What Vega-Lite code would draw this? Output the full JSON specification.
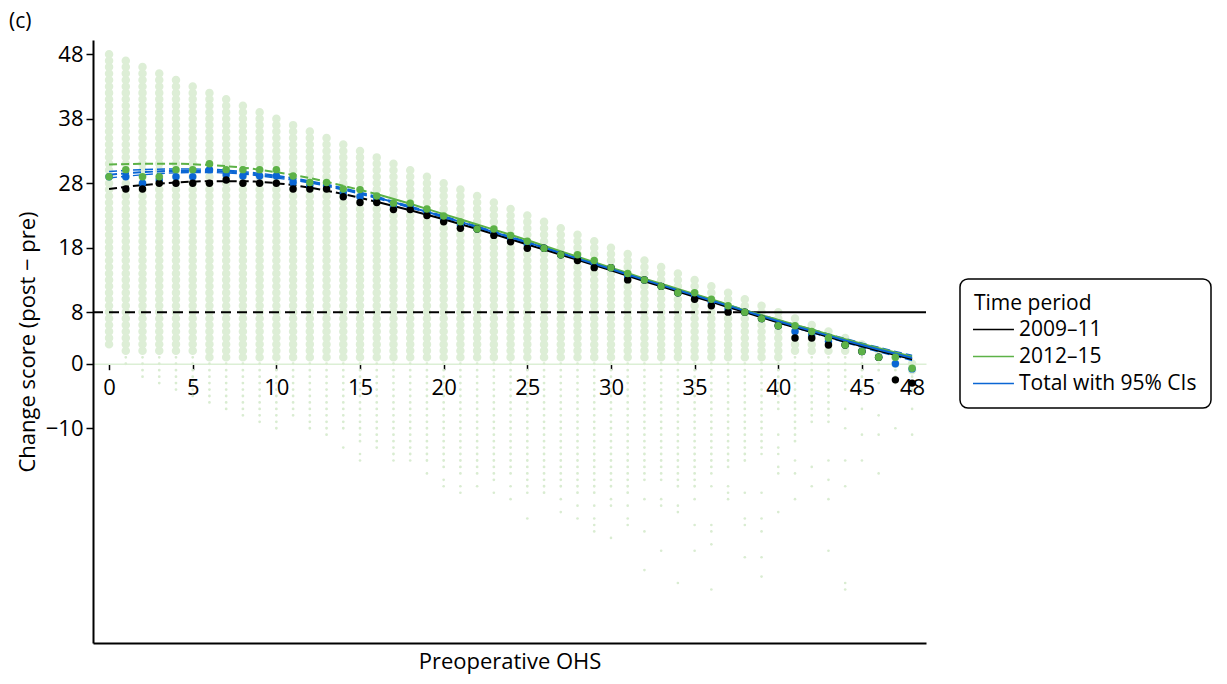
{
  "$schema": "https://vega.github.io/schema/vega-lite/v6.json",
  "width": 833,
  "height": 603,
  "autosize": "none",
  "padding": {"left": 93, "top": 40, "right": 301, "bottom": 41},
  "background": "white",
  "config": {"view": {"stroke": null}, "font": "Open Sans", "axis": {"grid": false}},
  "title": {"text": "(c)", "anchor": "start", "frame": "group", "dx": -84, "offset": 8, "fontSize": 21, "fontWeight": "normal", "font": "Open Sans", "color": "black"},
  "resolve": {"scale": {"color": "independent"}, "axis": {"x": "independent"}},
  "datasets": {
    "cols": [
      {"x": 0, "hi": 48, "bl": 3, "st": null, "sl": null},
      {"x": 1, "hi": 47, "bl": 2, "st": 1, "sl": 0},
      {"x": 2, "hi": 46, "bl": 2, "st": 1, "sl": -2},
      {"x": 3, "hi": 45, "bl": 2, "st": 1, "sl": -3},
      {"x": 4, "hi": 44, "bl": 2, "st": 1, "sl": -4},
      {"x": 5, "hi": 43, "bl": 2, "st": 1, "sl": -5},
      {"x": 6, "hi": 42, "bl": 1, "st": 0, "sl": -6},
      {"x": 7, "hi": 41, "bl": 1, "st": 0, "sl": -7},
      {"x": 8, "hi": 40, "bl": 1, "st": 0, "sl": -8},
      {"x": 9, "hi": 39, "bl": 1, "st": 0, "sl": -9},
      {"x": 10, "hi": 38, "bl": 1, "st": 0, "sl": -10},
      {"x": 11, "hi": 37, "bl": 1, "st": 0, "sl": -8},
      {"x": 12, "hi": 36, "bl": 1, "st": 0, "sl": -10},
      {"x": 13, "hi": 35, "bl": 1, "st": 0, "sl": -11},
      {"x": 14, "hi": 34, "bl": 1, "st": 0, "sl": -10},
      {"x": 15, "hi": 33, "bl": 1, "st": 0, "sl": -12},
      {"x": 16, "hi": 32, "bl": 1, "st": 0, "sl": -13},
      {"x": 17, "hi": 31, "bl": 1, "st": 0, "sl": -14},
      {"x": 18, "hi": 30, "bl": 1, "st": 0, "sl": -14},
      {"x": 19, "hi": 29, "bl": 1, "st": 0, "sl": -15},
      {"x": 20, "hi": 28, "bl": 1, "st": 0, "sl": -16},
      {"x": 21, "hi": 27, "bl": 1, "st": 0, "sl": -17},
      {"x": 22, "hi": 26, "bl": 1, "st": 0, "sl": -17},
      {"x": 23, "hi": 25, "bl": 1, "st": 0, "sl": -18},
      {"x": 24, "hi": 24, "bl": 1, "st": 0, "sl": -17},
      {"x": 25, "hi": 23, "bl": 1, "st": 0, "sl": -19},
      {"x": 26, "hi": 22, "bl": 1, "st": 0, "sl": -20},
      {"x": 27, "hi": 21, "bl": 1, "st": 0, "sl": -19},
      {"x": 28, "hi": 20, "bl": 1, "st": 0, "sl": -20},
      {"x": 29, "hi": 19, "bl": 1, "st": 0, "sl": -20},
      {"x": 30, "hi": 18, "bl": 1, "st": 0, "sl": -19},
      {"x": 31, "hi": 17, "bl": 1, "st": 0, "sl": -20},
      {"x": 32, "hi": 16, "bl": 1, "st": 0, "sl": -18},
      {"x": 33, "hi": 15, "bl": 1, "st": 0, "sl": -18},
      {"x": 34, "hi": 14, "bl": 1, "st": 0, "sl": -19},
      {"x": 35, "hi": 13, "bl": 1, "st": 0, "sl": -19},
      {"x": 36, "hi": 12, "bl": 1, "st": 0, "sl": -16},
      {"x": 37, "hi": 11, "bl": 1, "st": 0, "sl": -16},
      {"x": 38, "hi": 10, "bl": 1, "st": 0, "sl": -15},
      {"x": 39, "hi": 9, "bl": 1, "st": 0, "sl": -13},
      {"x": 40, "hi": 8, "bl": 1, "st": 0, "sl": -7},
      {"x": 41, "hi": 7, "bl": 2, "st": 1, "sl": -12},
      {"x": 42, "hi": 6, "bl": 2, "st": 1, "sl": -9},
      {"x": 43, "hi": 5, "bl": 2, "st": 1, "sl": -9},
      {"x": 44, "hi": 4, "bl": 2, "st": 1, "sl": -4},
      {"x": 45, "hi": 3, "bl": 2, "st": 1, "sl": -2},
      {"x": 46, "hi": 2, "bl": 1, "st": 0, "sl": -1},
      {"x": 47, "hi": 1, "bl": 0, "st": -1, "sl": -2},
      {"x": 48, "hi": 0, "bl": -1, "st": -2, "sl": -3}
    ],
    "outliers": [
      {"x": 14, "y": -13}, {"x": 15, "y": -14}, {"x": 15, "y": -15}, {"x": 17, "y": -15}, {"x": 18, "y": -15},
      {"x": 19, "y": -17}, {"x": 20, "y": -18}, {"x": 20, "y": -19}, {"x": 21, "y": -19}, {"x": 21, "y": -20},
      {"x": 22, "y": -19}, {"x": 23, "y": -20}, {"x": 24, "y": -19}, {"x": 24, "y": -21}, {"x": 25, "y": -20},
      {"x": 25, "y": -24}, {"x": 27, "y": -21}, {"x": 27, "y": -23}, {"x": 28, "y": -22}, {"x": 28, "y": -24},
      {"x": 29, "y": -22}, {"x": 29, "y": -24}, {"x": 29, "y": -25}, {"x": 29, "y": -26}, {"x": 30, "y": -21},
      {"x": 30, "y": -22}, {"x": 30, "y": -27}, {"x": 31, "y": -22}, {"x": 31, "y": -24}, {"x": 31, "y": -25},
      {"x": 32, "y": -21}, {"x": 32, "y": -26}, {"x": 32, "y": -32}, {"x": 33, "y": -21}, {"x": 33, "y": -22},
      {"x": 33, "y": -29}, {"x": 34, "y": -22}, {"x": 34, "y": -23}, {"x": 34, "y": -34}, {"x": 35, "y": -21},
      {"x": 35, "y": -25}, {"x": 35, "y": -29}, {"x": 36, "y": -17}, {"x": 36, "y": -19}, {"x": 36, "y": -25},
      {"x": 36, "y": -26}, {"x": 36, "y": -28}, {"x": 36, "y": -35}, {"x": 37, "y": -19}, {"x": 37, "y": -20},
      {"x": 37, "y": -21}, {"x": 38, "y": -20}, {"x": 38, "y": -24}, {"x": 38, "y": -25}, {"x": 38, "y": -30},
      {"x": 39, "y": -14}, {"x": 39, "y": -20}, {"x": 39, "y": -24}, {"x": 39, "y": -26}, {"x": 39, "y": -30},
      {"x": 39, "y": -33}, {"x": 40, "y": -11}, {"x": 40, "y": -13}, {"x": 40, "y": -14}, {"x": 40, "y": -16},
      {"x": 40, "y": -17}, {"x": 40, "y": -23}, {"x": 41, "y": -15}, {"x": 41, "y": -17}, {"x": 41, "y": -21},
      {"x": 42, "y": -16}, {"x": 42, "y": -19}, {"x": 43, "y": -15}, {"x": 43, "y": -18}, {"x": 43, "y": -21},
      {"x": 43, "y": -29}, {"x": 44, "y": -7}, {"x": 44, "y": -10}, {"x": 44, "y": -15}, {"x": 44, "y": -19},
      {"x": 44, "y": -34}, {"x": 44, "y": -35}, {"x": 45, "y": -4}, {"x": 45, "y": -7}, {"x": 45, "y": -11},
      {"x": 45, "y": -15}, {"x": 46, "y": -3}, {"x": 46, "y": -8}, {"x": 46, "y": -11}, {"x": 46, "y": -17},
      {"x": 47, "y": -3}, {"x": 47, "y": -10}, {"x": 48, "y": -4}, {"x": 48, "y": -7}, {"x": 48, "y": -11}
    ],
    "fitA": [
      {"x": 0, "2009–11": 27.1, "2012–15": 30.9, "Total with 95% CIs": 29.3, "lo": 28.8, "hi": 29.8},
      {"x": 2, "2009–11": 27.7, "2012–15": 31.0, "Total with 95% CIs": 29.7, "lo": 29.3, "hi": 30.1},
      {"x": 4, "2009–11": 28.1, "2012–15": 31.0, "Total with 95% CIs": 29.9, "lo": 29.6, "hi": 30.2},
      {"x": 6, "2009–11": 28.3, "2012–15": 30.8, "Total with 95% CIs": 29.9, "lo": 29.65, "hi": 30.15},
      {"x": 8, "2009–11": 28.3, "2012–15": 30.4, "Total with 95% CIs": 29.6, "lo": 29.4, "hi": 29.8},
      {"x": 10, "2009–11": 28.0, "2012–15": 29.7, "Total with 95% CIs": 29.0, "lo": 28.8, "hi": 29.2},
      {"x": 12, "2009–11": 27.3, "2012–15": 28.8, "Total with 95% CIs": 28.2, "lo": 28.05, "hi": 28.35},
      {"x": 14, "2009–11": 26.3, "2012–15": 27.6, "Total with 95% CIs": 27.1, "lo": 26.95, "hi": 27.25},
      {"x": 16, "2009–11": 25.1, "2012–15": 26.3, "Total with 95% CIs": 25.8, "lo": 25.65, "hi": 25.95}
    ],
    "fitB": [
      {"x": 16, "2009–11": 25.1, "2012–15": 26.3, "Total with 95% CIs": 25.8, "lo": 25.65, "hi": 25.95},
      {"x": 18, "2009–11": 23.8, "2012–15": 24.8, "Total with 95% CIs": 24.3, "lo": 24.18, "hi": 24.42},
      {"x": 20, "2009–11": 22.4, "2012–15": 23.2, "Total with 95% CIs": 22.8, "lo": 22.68, "hi": 22.92},
      {"x": 22, "2009–11": 20.9, "2012–15": 21.6, "Total with 95% CIs": 21.2, "lo": 21.08, "hi": 21.32},
      {"x": 24, "2009–11": 19.3, "2012–15": 20.0, "Total with 95% CIs": 19.6, "lo": 19.48, "hi": 19.72},
      {"x": 26, "2009–11": 17.7, "2012–15": 18.3, "Total with 95% CIs": 18.0, "lo": 17.88, "hi": 18.12},
      {"x": 28, "2009–11": 16.1, "2012–15": 16.6, "Total with 95% CIs": 16.3, "lo": 16.18, "hi": 16.42},
      {"x": 30, "2009–11": 14.5, "2012–15": 14.9, "Total with 95% CIs": 14.7, "lo": 14.58, "hi": 14.82},
      {"x": 32, "2009–11": 12.8, "2012–15": 13.2, "Total with 95% CIs": 13.0, "lo": 12.88, "hi": 13.12},
      {"x": 34, "2009–11": 11.2, "2012–15": 11.6, "Total with 95% CIs": 11.4, "lo": 11.28, "hi": 11.52},
      {"x": 36, "2009–11": 9.6, "2012–15": 10.0, "Total with 95% CIs": 9.8, "lo": 9.65, "hi": 9.95},
      {"x": 38, "2009–11": 8.0, "2012–15": 8.3, "Total with 95% CIs": 8.2, "lo": 8.05, "hi": 8.35},
      {"x": 40, "2009–11": 6.4, "2012–15": 6.8, "Total with 95% CIs": 6.6, "lo": 6.4, "hi": 6.8},
      {"x": 42, "2009–11": 4.9, "2012–15": 5.3, "Total with 95% CIs": 5.1, "lo": 4.85, "hi": 5.35},
      {"x": 44, "2009–11": 3.4, "2012–15": 3.8, "Total with 95% CIs": 3.6, "lo": 3.3, "hi": 3.9},
      {"x": 46, "2009–11": 2.0, "2012–15": 2.4, "Total with 95% CIs": 2.2, "lo": 1.85, "hi": 2.55},
      {"x": 48, "2009–11": 0.7, "2012–15": 1.1, "Total with 95% CIs": 0.9, "lo": 0.5, "hi": 1.3}
    ],
    "means": [
      {"x": 0, "2009–11": null, "2012–15": 29.0, "Total with 95% CIs": 29.0},
      {"x": 1, "2009–11": 27.1, "2012–15": 30.1, "Total with 95% CIs": 29.0},
      {"x": 2, "2009–11": 27.1, "2012–15": 29.0, "Total with 95% CIs": 28.0},
      {"x": 3, "2009–11": 28.0, "2012–15": 29.0, "Total with 95% CIs": 28.5},
      {"x": 4, "2009–11": 28.0, "2012–15": 30.1, "Total with 95% CIs": 29.0},
      {"x": 5, "2009–11": 28.0, "2012–15": 30.1, "Total with 95% CIs": 29.0},
      {"x": 6, "2009–11": 28.0, "2012–15": 31.0, "Total with 95% CIs": 30.1},
      {"x": 7, "2009–11": 28.5, "2012–15": 30.1, "Total with 95% CIs": 29.3},
      {"x": 8, "2009–11": 28.0, "2012–15": 30.1, "Total with 95% CIs": 29.1},
      {"x": 9, "2009–11": 28.0, "2012–15": 30.1, "Total with 95% CIs": 29.1},
      {"x": 10, "2009–11": 28.0, "2012–15": 30.1, "Total with 95% CIs": 29.1},
      {"x": 11, "2009–11": 27.1, "2012–15": 29.1, "Total with 95% CIs": 28.1},
      {"x": 12, "2009–11": 27.1, "2012–15": 28.1, "Total with 95% CIs": 27.6},
      {"x": 13, "2009–11": 27.1, "2012–15": 28.1, "Total with 95% CIs": 27.6},
      {"x": 14, "2009–11": 25.9, "2012–15": 27.1, "Total with 95% CIs": 26.5},
      {"x": 15, "2009–11": 25.0, "2012–15": 27.0, "Total with 95% CIs": 25.9},
      {"x": 16, "2009–11": 25.0, "2012–15": 26.0, "Total with 95% CIs": 25.5},
      {"x": 17, "2009–11": 23.9, "2012–15": 24.9, "Total with 95% CIs": 24.4},
      {"x": 18, "2009–11": 23.9, "2012–15": 24.9, "Total with 95% CIs": 24.4},
      {"x": 19, "2009–11": 23.0, "2012–15": 24.0, "Total with 95% CIs": 23.5},
      {"x": 20, "2009–11": 22.0, "2012–15": 22.9, "Total with 95% CIs": 22.4},
      {"x": 21, "2009–11": 21.0, "2012–15": 22.0, "Total with 95% CIs": 21.5},
      {"x": 22, "2009–11": 20.9, "2012–15": 20.9, "Total with 95% CIs": 20.9},
      {"x": 23, "2009–11": 19.9, "2012–15": 20.9, "Total with 95% CIs": 20.4},
      {"x": 24, "2009–11": 18.9, "2012–15": 19.9, "Total with 95% CIs": 19.4},
      {"x": 25, "2009–11": 17.9, "2012–15": 19.0, "Total with 95% CIs": 18.5},
      {"x": 26, "2009–11": 17.9, "2012–15": 17.9, "Total with 95% CIs": 17.9},
      {"x": 27, "2009–11": 16.9, "2012–15": 16.9, "Total with 95% CIs": 16.9},
      {"x": 28, "2009–11": 16.0, "2012–15": 16.9, "Total with 95% CIs": 16.5},
      {"x": 29, "2009–11": 14.9, "2012–15": 16.0, "Total with 95% CIs": 15.5},
      {"x": 30, "2009–11": 14.9, "2012–15": 14.9, "Total with 95% CIs": 14.9},
      {"x": 31, "2009–11": 13.0, "2012–15": 14.0, "Total with 95% CIs": 13.5},
      {"x": 32, "2009–11": 13.0, "2012–15": 13.0, "Total with 95% CIs": 13.0},
      {"x": 33, "2009–11": 12.0, "2012–15": 12.0, "Total with 95% CIs": 12.0},
      {"x": 34, "2009–11": 11.0, "2012–15": 11.0, "Total with 95% CIs": 11.0},
      {"x": 35, "2009–11": 10.0, "2012–15": 11.0, "Total with 95% CIs": 10.5},
      {"x": 36, "2009–11": 9.0, "2012–15": 10.0, "Total with 95% CIs": 9.5},
      {"x": 37, "2009–11": 8.0, "2012–15": 9.0, "Total with 95% CIs": 8.5},
      {"x": 38, "2009–11": 8.0, "2012–15": 8.0, "Total with 95% CIs": 8.0},
      {"x": 39, "2009–11": 7.0, "2012–15": 7.0, "Total with 95% CIs": 7.0},
      {"x": 40, "2009–11": 5.9, "2012–15": 5.9, "Total with 95% CIs": 5.9},
      {"x": 41, "2009–11": 4.0, "2012–15": 5.9, "Total with 95% CIs": 5.0},
      {"x": 42, "2009–11": 4.0, "2012–15": 5.0, "Total with 95% CIs": 4.5},
      {"x": 43, "2009–11": 2.9, "2012–15": 4.0, "Total with 95% CIs": 3.5},
      {"x": 44, "2009–11": 2.9, "2012–15": 2.9, "Total with 95% CIs": 2.9},
      {"x": 45, "2009–11": 1.9, "2012–15": 1.9, "Total with 95% CIs": 1.9},
      {"x": 46, "2009–11": 1.0, "2012–15": 1.0, "Total with 95% CIs": 1.0},
      {"x": 47, "2009–11": -2.5, "2012–15": 1.0, "Total with 95% CIs": 0.0},
      {"x": 48, "2009–11": -3.0, "2012–15": -0.7, "Total with 95% CIs": -0.8}
    ],
    "refDash": [{"x1": -0.96, "x2": 38.5, "y": 8}],
    "refSolid": [{"x1": 38.5, "x2": 48.83, "y": 8}]
  },
  "layer": [
    {
      "data": {"name": "cols"},
      "mark": {"type": "rule", "strokeWidth": 8.5, "strokeCap": "round", "strokeDash": [0.01, 6.438], "color": "#ddeed6"},
      "encoding": {
        "x": {"field": "x", "type": "quantitative", "scale": {"domain": [-0.96, 48.83], "nice": false, "zero": false},
          "axis": {"orient": "bottom", "title": "Preoperative OHS", "labels": false, "ticks": false, "domainColor": "black", "domainWidth": 2, "titleFontSize": 22, "titleFontWeight": "normal", "titleColor": "black", "titleFont": "Open Sans", "titlePadding": 8}},
        "y": {"field": "hi", "type": "quantitative", "scale": {"domain": [-43.3, 50.2], "nice": false, "zero": false},
          "axis": {"values": [48, 38, 28, 18, 8, 0, -10], "title": "Change score (post − pre)", "titleFontSize": 22, "titleFontWeight": "normal", "titleColor": "black", "titleFont": "Open Sans", "titlePadding": 6, "labelFontSize": 22, "labelColor": "black", "labelFont": "Open Sans", "labelPadding": 3, "tickColor": "black", "tickWidth": 1.5, "tickSize": 7, "domainColor": "black", "domainWidth": 2}},
        "y2": {"field": "bl"}
      }
    },
    {
      "data": {"name": "cols"},
      "mark": {"type": "rule", "strokeWidth": 2.8, "strokeCap": "round", "strokeDash": [0.01, 6.438], "color": "#d9ecd1"},
      "encoding": {
        "x": {"field": "x", "type": "quantitative", "axis": null},
        "y": {"field": "st", "type": "quantitative"},
        "y2": {"field": "sl"}
      }
    },
    {
      "data": {"name": "outliers"},
      "mark": {"type": "point", "filled": true, "size": 7, "opacity": 1, "color": "#d9ecd1"},
      "encoding": {
        "x": {"field": "x", "type": "quantitative",
          "axis": {"orient": "bottom", "offset": -279.3, "values": [0, 5, 10, 15, 20, 25, 30, 35, 40, 45, 48], "title": null, "domainColor": "#dcefd5", "domainWidth": 1.5, "tickColor": "black", "tickWidth": 1.5, "tickSize": 6, "labelFontSize": 22, "labelColor": "black", "labelFont": "Open Sans", "labelPadding": 8, "labelOverlap": false, "labelFlush": false}},
        "y": {"field": "y", "type": "quantitative"}
      }
    },
    {
      "data": {"name": "refDash"},
      "mark": {"type": "rule", "strokeWidth": 2, "strokeDash": [10, 6], "color": "black"},
      "encoding": {
        "x": {"field": "x1", "type": "quantitative", "axis": null},
        "x2": {"field": "x2"},
        "y": {"field": "y", "type": "quantitative"}
      }
    },
    {
      "data": {"name": "refSolid"},
      "mark": {"type": "rule", "strokeWidth": 2, "color": "black"},
      "encoding": {
        "x": {"field": "x1", "type": "quantitative", "axis": null},
        "x2": {"field": "x2"},
        "y": {"field": "y", "type": "quantitative"}
      }
    },
    {
      "data": {"name": "fitA"},
      "transform": [{"fold": ["lo", "hi"], "as": ["bound", "y"]}],
      "mark": {"type": "line", "strokeWidth": 1.4, "strokeDash": [8, 4], "interpolate": "monotone", "color": "#0a66d4"},
      "encoding": {
        "x": {"field": "x", "type": "quantitative", "axis": null},
        "y": {"field": "y", "type": "quantitative"},
        "detail": {"field": "bound", "type": "nominal"}
      }
    },
    {
      "data": {"name": "fitB"},
      "transform": [{"fold": ["lo", "hi"], "as": ["bound", "y"]}],
      "mark": {"type": "line", "strokeWidth": 1.4, "strokeDash": [8, 4], "interpolate": "monotone", "color": "#0a66d4"},
      "encoding": {
        "x": {"field": "x", "type": "quantitative", "axis": null},
        "y": {"field": "y", "type": "quantitative"},
        "detail": {"field": "bound", "type": "nominal"}
      }
    },
    {
      "data": {"name": "fitA"},
      "transform": [{"fold": ["2009–11", "2012–15", "Total with 95% CIs"], "as": ["group", "y"]}],
      "mark": {"type": "line", "strokeWidth": 2, "strokeDash": [8, 4], "interpolate": "monotone"},
      "encoding": {
        "x": {"field": "x", "type": "quantitative", "axis": null},
        "y": {"field": "y", "type": "quantitative"},
        "color": {"field": "group", "type": "nominal", "scale": {"domain": ["2009–11", "2012–15", "Total with 95% CIs"], "range": ["#000000", "#5db247", "#0a66d4"]}, "legend": null}
      }
    },
    {
      "data": {"name": "fitB"},
      "transform": [{"fold": ["2009–11", "2012–15", "Total with 95% CIs"], "as": ["group", "y"]}],
      "mark": {"type": "line", "strokeWidth": 2, "interpolate": "monotone"},
      "encoding": {
        "x": {"field": "x", "type": "quantitative", "axis": null},
        "y": {"field": "y", "type": "quantitative"},
        "color": {"field": "group", "type": "nominal", "scale": {"domain": ["2009–11", "2012–15", "Total with 95% CIs"], "range": ["#000000", "#5db247", "#0a66d4"]},
          "legend": {"title": "Time period", "orient": "none", "legendX": 867, "legendY": 239, "titleFontSize": 21, "titleFontWeight": "normal", "titleFont": "Open Sans", "titleColor": "black", "labelFontSize": 21, "labelFont": "Open Sans", "labelColor": "black", "labelLimit": 0, "symbolType": "M-1.19,0H2.71", "symbolSize": 441, "symbolStrokeWidth": 1.5, "labelOffset": 22, "strokeColor": "black", "cornerRadius": 8, "padding": 14, "rowPadding": 5, "titlePadding": 4, "fillColor": "white",
            "encode": {"legend": {"update": {"strokeWidth": {"value": 1.5}}}}}}
      }
    },
    {
      "data": {"name": "means"},
      "transform": [{"fold": ["Total with 95% CIs", "2009–11", "2012–15"], "as": ["group", "y"]}],
      "mark": {"type": "point", "filled": true, "size": 55, "opacity": 1},
      "encoding": {
        "x": {"field": "x", "type": "quantitative", "axis": null},
        "y": {"field": "y", "type": "quantitative"},
        "color": {"field": "group", "type": "nominal", "scale": {"domain": ["2009–11", "2012–15", "Total with 95% CIs"], "range": ["#000000", "#5db247", "#0a66d4"]}, "legend": null}
      }
    }
  ]
}
